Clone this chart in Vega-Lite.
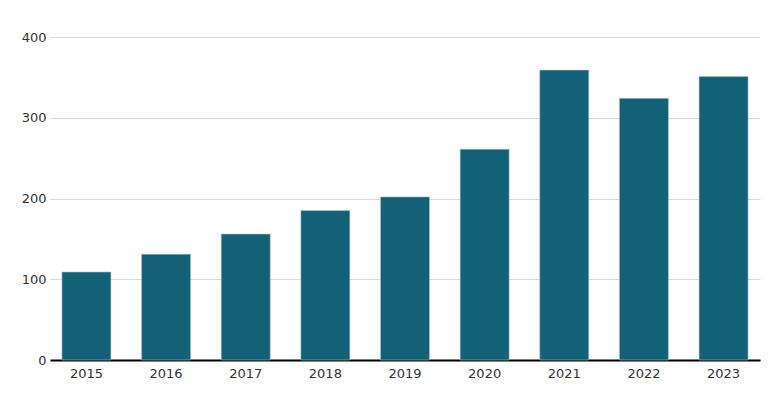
{
  "$schema": "https://vega.github.io/schema/vega-lite/v6.json",
  "width": 710,
  "height": 323,
  "autosize": {"type": "none"},
  "padding": {"left": 50, "top": 37, "right": 20, "bottom": 40},
  "background": "white",
  "config": {"view": {"stroke": null}, "font": "DejaVu Sans"},
  "data": {"values": [
    {"year": "2015", "value": 109},
    {"year": "2016", "value": 131},
    {"year": "2017", "value": 156},
    {"year": "2018", "value": 185},
    {"year": "2019", "value": 202},
    {"year": "2020", "value": 261},
    {"year": "2021", "value": 359},
    {"year": "2022", "value": 324},
    {"year": "2023", "value": 351}
  ]},
  "mark": {"type": "bar", "color": "#136176", "stroke": "#a9c4cc", "strokeWidth": 0.6},
  "encoding": {
    "x": {"field": "year", "type": "ordinal", "title": null,
      "scale": {"paddingInner": 0.385, "paddingOuter": 0.15},
      "axis": {"labelAngle": 0, "ticks": false, "domainColor": "#000", "domainWidth": 2, "labelFontSize": 13, "labelColor": "#333", "labelPadding": 7}},
    "y": {"field": "value", "type": "quantitative", "title": null,
      "scale": {"domain": [0, 400]},
      "axis": {"values": [0, 100, 200, 300, 400], "ticks": false, "domain": false, "gridColor": "#d9d9d9", "labelFontSize": 13, "labelColor": "#333", "labelPadding": 4}}
  }
}
